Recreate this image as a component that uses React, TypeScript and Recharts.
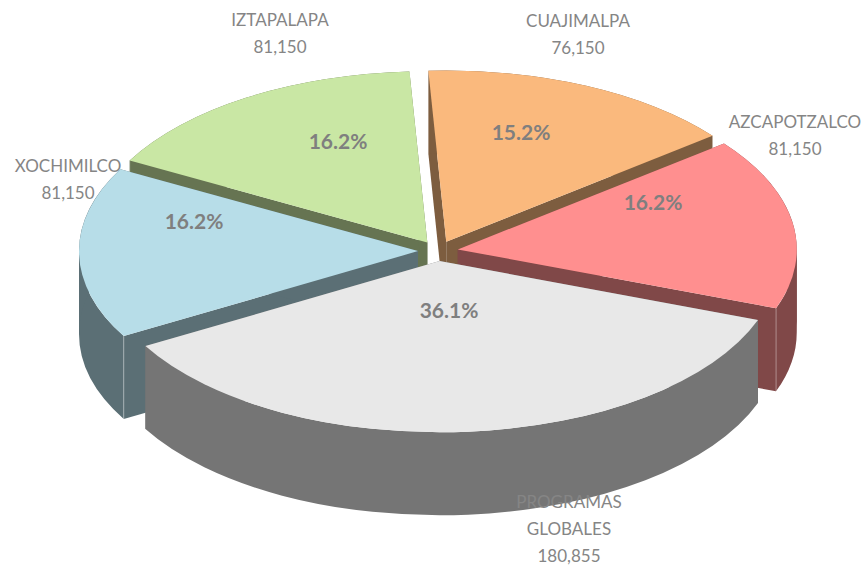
/**
 * Exploded 3D pie, drawn with a Recharts Pie and a custom sector shape
 */
import { PieChart, Pie } from "recharts";

const names = ["IZTAPALAPA", "CUAJIMALPA", "AZCAPOTZALCO", "PROGRAMAS GLOBALES", "XOCHIMILCO"];
const values = [81150, 76150, 81150, 180855, 81150];
const topColors = ["#C9E7A4", "#FAB97D", "#FF8F8F", "#E8E8E8", "#B7DDE8"];
const wallColors = ["#667452", "#7D5D3F", "#804848", "#757575", "#5B6F75"];

const chartData = names.map((name, i) => ({ name, value: values[i], fill: topColors[i] }));

const CX = 438;
const CY = 251;
const RADIUS = 339;
const TILT = 0.505;
const EXPLODE = 20;
const DEPTH = 83;
const FRONT_SLICE = "PROGRAMAS GLOBALES";

// text anchors, relative to the pie centre
const valueLabelPos: Record<string, [number, number]> = {
  IZTAPALAPA: [-158, -225],
  CUAJIMALPA: [140, -224],
  AZCAPOTZALCO: [357, -123],
  "PROGRAMAS GLOBALES": [131, 257],
  XOCHIMILCO: [-370, -79],
};
const percentLabelPos: Record<string, [number, number]> = {
  IZTAPALAPA: [-100, -102],
  CUAJIMALPA: [83, -111],
  AZCAPOTZALCO: [215, -41],
  "PROGRAMAS GLOBALES": [11, 67],
  XOCHIMILCO: [-244, -22],
};

const rad = (deg: number) => (deg * Math.PI) / 180;

function Slice3D(props: any) {
  const { cx, cy, outerRadius, startAngle, endAngle, name, fill } = props;
  const wall = wallColors[names.indexOf(name)];
  const mid = (startAngle + endAngle) / 2;
  const ax = cx + EXPLODE * Math.cos(rad(mid));
  const ay = cy - EXPLODE * TILT * Math.sin(rad(mid));
  const rx = outerRadius;
  const ry = outerRadius * TILT;
  const px = (a: number) => ax + rx * Math.cos(rad(a));
  const py = (a: number) => ay - ry * Math.sin(rad(a));
  const x1 = px(startAngle);
  const y1 = py(startAngle);
  const x2 = px(endAngle);
  const y2 = py(endAngle);
  const large = Math.abs(startAngle - endAngle) > 180 ? 1 : 0;

  // split the rim at the ellipse's left and right ends so each strip sweeps cleanly
  const stops = [startAngle];
  for (let a = Math.floor(startAngle / 180) * 180; a > endAngle; a -= 180) {
    if (a < startAngle) stops.push(a);
  }
  stops.push(endAngle);

  return (
    <g>
      <path d={`M${ax},${ay} L${x1},${y1} L${x1},${y1 + DEPTH} L${ax},${ay + DEPTH} Z`} fill={wall} />
      <path d={`M${ax},${ay} L${x2},${y2} L${x2},${y2 + DEPTH} L${ax},${ay + DEPTH} Z`} fill={wall} />
      {stops.slice(1).map((b, i) => {
        const a = stops[i];
        return (
          <path
            key={b}
            d={`M${px(a)},${py(a)} A${rx},${ry} 0 0 1 ${px(b)},${py(b)} L${px(b)},${py(b) + DEPTH} A${rx},${ry} 0 0 0 ${px(a)},${py(a) + DEPTH} Z`}
            fill={wall}
          />
        );
      })}
      {name !== FRONT_SLICE && (
        <>
          <line x1={x1} y1={y1} x2={x1} y2={y1 + DEPTH} stroke="#fff" strokeOpacity={0.35} />
          <line x1={x2} y1={y2} x2={x2} y2={y2 + DEPTH} stroke="#fff" strokeOpacity={0.35} />
        </>
      )}
      <path d={`M${ax},${ay} L${x1},${y1} A${rx},${ry} 0 ${large} 1 ${x2},${y2} Z`} fill={fill} />
    </g>
  );
}

function renderLabels(props: any) {
  const { cx, cy, name, value, percent } = props;
  const [vx, vy] = valueLabelPos[name];
  const [px, py] = percentLabelPos[name];
  const lines = name === FRONT_SLICE ? name.split(" ") : [name];
  return (
    <g fontFamily="Lato, sans-serif">
      <text x={cx + vx} y={cy + vy} textAnchor="middle" fontSize={17} fill="#858585">
        {lines.map((line: string, i: number) => (
          <tspan key={line} x={cx + vx} dy={i === 0 ? 0 : 27}>
            {line}
          </tspan>
        ))}
        <tspan x={cx + vx} dy={27}>
          {value.toLocaleString("en-US")}
        </tspan>
      </text>
      <text x={cx + px} y={cy + py} textAnchor="middle" fontSize={21} fontWeight={700} fill="#7F7F7F">
        {`${(percent * 100).toFixed(1)}%`}
      </text>
    </g>
  );
}

const pieProps = {
  data: chartData,
  dataKey: "value",
  nameKey: "name",
  cx: CX,
  cy: CY,
  outerRadius: RADIUS,
  startAngle: 151.4,
  endAngle: -208.6,
  stroke: "none",
  isAnimationActive: false,
  labelLine: false,
};

export default function App() {
  return (
    <div style={{ position: "absolute", left: 0, top: 0, width: 864, height: 566, background: "#fff" }}>
      <PieChart width={864} height={566} margin={{ top: 0, right: 0, bottom: 0, left: 0 }}>
        {/* back slices first, the big front slice has to sit over the others */}
        <Pie {...pieProps} shape={(p: any) => (p.name === FRONT_SLICE ? <g /> : <Slice3D {...p} />)} />
        <Pie {...pieProps} shape={(p: any) => (p.name === FRONT_SLICE ? <Slice3D {...p} /> : <g />)} />
        <Pie {...pieProps} shape={() => <g />} label={renderLabels} />
      </PieChart>
    </div>
  );
}
